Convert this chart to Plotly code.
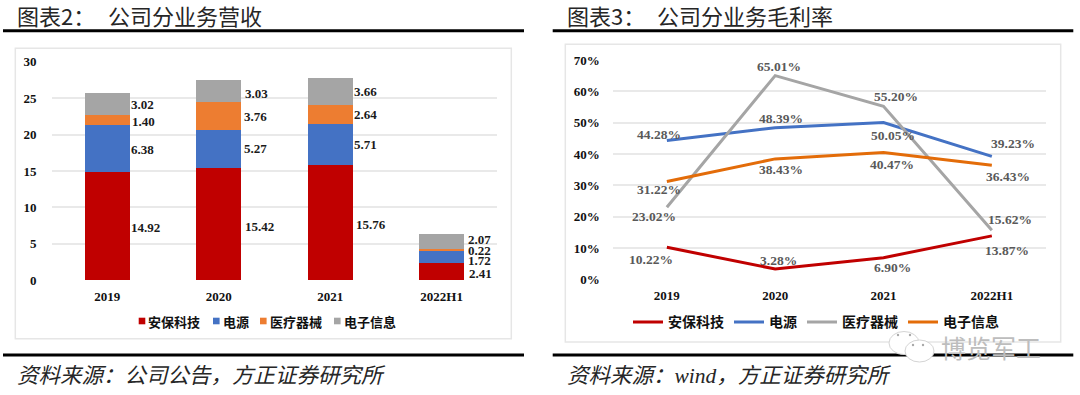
import plotly.graph_objects as go

W, H = 1080, 395
categories = ["2019", "2020", "2021", "2022H1"]
series_names = ["安保科技", "电源", "医疗器械", "电子信息"]
bar_colors = ["#C00000", "#4472C4", "#ED7D31", "#A5A5A5"]
line_colors = ["#C00000", "#4472C4", "#A5A5A5", "#E36C09"]

rev_security = [14.92, 15.42, 15.76, 2.41]
rev_power = [6.38, 5.27, 5.71, 1.72]
rev_medical = [1.40, 3.76, 2.64, 0.22]
rev_electronic = [3.02, 3.03, 3.66, 2.07]

gm_security = [10.22, 3.28, 6.90, 13.87]
gm_power = [44.28, 48.39, 50.05, 39.23]
gm_medical = [23.02, 65.01, 55.20, 15.62]
gm_electronic = [31.22, 38.43, 40.47, 36.43]

revenue = [rev_security, rev_power, rev_medical, rev_electronic]
margins = [gm_security, gm_power, gm_medical, gm_electronic]

# label nudges in pixels (dx, dy up), per series then per category
bar_nudge = [
    [(38.4, -2), (40.5, -2), (40.5, -2), (38.4, -1.5)],
    [(35.3, -1.5), (36.3, 0), (35.3, 0), (38, -4.5)],
    [(36.3, -2), (36.3, -1), (35.3, -.5), (38, -1.5)],
    [(35.3, -1), (37.4, -2), (35.3, 0), (38, 2)],
]
line_nudge = [
    [(-15.6, -12), (3.1, 8.7), (9.3, -9.6), (15.6, -14.4)],
    [(-8.3, 6.4), (6.2, 9.6), (9.3, -12.6), (20.8, 13.2)],
    [(-12.5, -9), (4.2, 9.6), (12.5, 10.3), (17.7, 11.1)],
    [(-8.3, -7.7), (6.2, -10.2), (8.3, -11.6), (16.6, -11)],
]

SERIF = "Liberation Serif"
CJK = "Noto Sans CJK SC"
LABEL = "#1A1A1A"


def px(x):
    return x / W


def py(y):
    return 1 - y / H


fig = go.Figure()
for name, vals, col in zip(series_names, revenue, bar_colors):
    fig.add_trace(go.Bar(x=categories, y=vals, name=name, marker=dict(color=col, line=dict(width=0)),
                         width=0.4, xaxis="x", yaxis="y", showlegend=False))
for name, vals, col in zip(series_names, margins, line_colors):
    fig.add_trace(go.Scatter(x=categories, y=vals, name=name, mode="lines", line=dict(color=col, width=3),
                             xaxis="x2", yaxis="y2", showlegend=True))

ann = []
for i, vals in enumerate(revenue):
    for j, v in enumerate(vals):
        base = sum(revenue[k][j] for k in range(i))
        dx, dy = bar_nudge[i][j]
        ann.append(dict(x=j, y=base + v / 2, xref="x", yref="y", text=f"{v:.2f}", showarrow=False,
                        xshift=dx, yshift=dy, font=dict(family=SERIF, size=13, color=LABEL, weight="bold")))
for i, vals in enumerate(margins):
    for j, v in enumerate(vals):
        dx, dy = line_nudge[i][j]
        ann.append(dict(x=j, y=v, xref="x2", yref="y2", text=f"{v:.2f}%", showarrow=False,
                        xshift=dx, yshift=dy, font=dict(family=SERIF, size=13.5, color="#595959", weight="bold")))


def text(x, y, s, size, family=CJK, color="#262626", anchor="left", style="normal", weight="normal"):
    ann.append(dict(x=px(x), y=py(y), xref="paper", yref="paper", text=s, showarrow=False, xanchor=anchor,
                    yanchor="middle", borderpad=0, borderwidth=0,
                    font=dict(family=family, size=size, color=color, style=style, weight=weight)))


text(17, 15, "图表2\uff1a", 22)
text(108, 15, "公司分业务营收", 22)
text(567, 15, "图表3\uff1a", 22)
text(657, 15, "公司分业务毛利率", 22)
text(17, 373, "资料来源\uff1a公司公告\uff0c方正证券研究所", 21.5, style="italic")
text(567, 373, "资料来源\uff1a<span style=\"font-family:'Liberation Serif'\">wind</span>\uff0c方正证券研究所", 21.5, style="italic")

shapes = []
# rules and frames
for x0, x1 in [(3, 524), (552.7, 1073.3)]:
    for y in (30.7, 355):
        shapes.append(dict(type="line", xref="paper", yref="paper", x0=px(x0), x1=px(x1), y0=py(y), y1=py(y),
                           line=dict(color="#000000", width=3)))
for x0, x1, y0, y1 in [(15.3, 511.3, 48.3, 338.7), (565.3, 1060.7, 44.3, 342)]:
    shapes.append(dict(type="rect", xref="paper", yref="paper", x0=px(x0), x1=px(x1), y0=py(y0), y1=py(y1),
                       line=dict(color="#E6E6E6", width=1.5), layer="below"))

# left legend
legend_x = [138.7, 213, 260, 334]
for x0, name, col in zip(legend_x, series_names, bar_colors):
    shapes.append(dict(type="rect", xref="paper", yref="paper", x0=px(x0), x1=px(x0 + 6.6), y0=py(324.3), y1=py(317.7),
                       fillcolor=col, line=dict(width=0)))
    text(x0 + 9.6, 321, name, 13, color="#111111", weight="bold")

# watermark
for cx, cy, rx, ry in [(904, 343, 15, 11.5), (919.5, 351, 14.5, 11)]:
    shapes.append(dict(type="circle", xref="paper", yref="paper", x0=px(cx - rx), x1=px(cx + rx), y0=py(cy + ry),
                       y1=py(cy - ry), line=dict(color="#D4D4D4", width=1), fillcolor="#FFFFFF"))
for cx, cy in [(898, 335), (910, 335), (913, 345), (923, 345)]:
    shapes.append(dict(type="circle", xref="paper", yref="paper", x0=px(cx - 1.2), x1=px(cx + 1.2), y0=py(cy + 1.2),
                       y1=py(cy - 1.2), line=dict(width=0), fillcolor="#A8A8A8"))
text(941, 347, "博览军工", 25, color="#BDBDBD")

axis_font = dict(family=SERIF, size=13, color="#111111", weight="bold")
common = dict(showline=False, ticks="", zeroline=False, automargin=False)
fig.update_layout(
    template="none", width=W, height=H, margin=dict(l=0, r=0, t=0, b=0, pad=0), barmode="stack",
    plot_bgcolor="rgba(0,0,0,0)", paper_bgcolor="white", annotations=ann, shapes=shapes,
    xaxis=dict(domain=[px(51.6), px(497.4)], anchor="y", type="category", range=[-0.5, 3.5], showgrid=False,
               tickfont=axis_font, ticklabelstandoff=7, **common),
    yaxis=dict(domain=[py(280.3), py(61.7)], anchor="x", range=[0, 30], dtick=5, gridcolor="#E9E9E9", gridwidth=1.5,
               tickfont=axis_font, ticklabelstandoff=14, **common),
    xaxis2=dict(domain=[px(612.7), px(1046)], anchor="y2", type="category", range=[-0.5, 3.5], showgrid=False,
                tickfont=axis_font, ticklabelstandoff=7, **common),
    yaxis2=dict(domain=[py(279.3), py(60)], anchor="x2", range=[0, 70], dtick=10, ticksuffix="%", gridcolor="#E9E9E9",
                gridwidth=1.5, tickfont=dict(family=SERIF, size=13, color="#111111", weight="bold"),
                ticklabelstandoff=12, **common),
    legend=dict(orientation="h", traceorder="normal", x=px(628), y=py(322.3), xanchor="left", yanchor="middle",
                bgcolor="rgba(0,0,0,0)", font=dict(family=CJK, size=14, color="#111111", weight="bold")),
)
fig.write_html("out.html", config={"displayModeBar": False}, post_script="document.body.style.margin='0';")
